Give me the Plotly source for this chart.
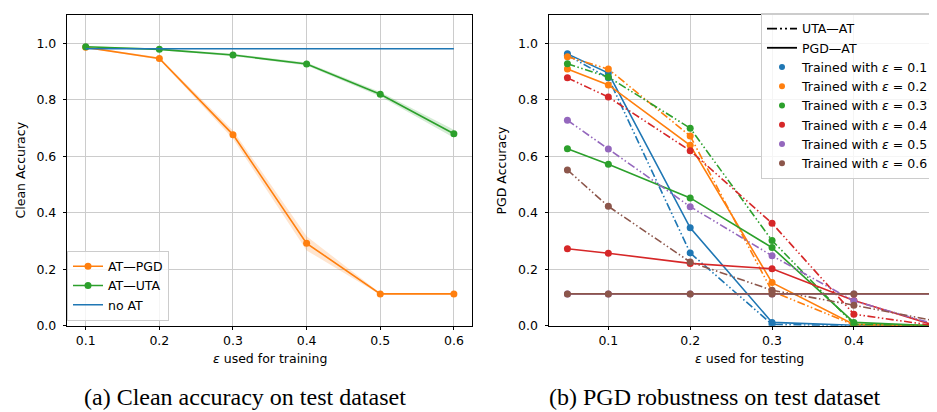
import plotly.graph_objects as go

# ---------------- data ----------------
eps_train = [0.1, 0.2, 0.3, 0.4, 0.5, 0.6]
clean_at_pgd = [0.986, 0.947, 0.677, 0.292, 0.113, 0.113]
clean_at_pgd_std = [0.002, 0.004, 0.015, 0.025, 0.003, 0.003]
clean_at_uta = [0.988, 0.979, 0.959, 0.927, 0.820, 0.680]
clean_at_uta_std = [0.002, 0.003, 0.004, 0.005, 0.008, 0.014]
clean_no_at = [0.981, 0.981, 0.981, 0.981, 0.981, 0.981]

eps_test = [0.05, 0.1, 0.2, 0.3, 0.4, 0.5]
train_eps_labels = ["0.1", "0.2", "0.3", "0.4", "0.5", "0.6"]
uta_01 = [0.958, 0.878, 0.258, 0.005, 0.000, 0.000]
pgd_01 = [0.963, 0.895, 0.347, 0.012, 0.002, 0.000]
uta_02 = [0.953, 0.909, 0.672, 0.122, 0.003, 0.000]
pgd_02 = [0.909, 0.853, 0.639, 0.153, 0.005, 0.000]
uta_03 = [0.928, 0.881, 0.700, 0.302, 0.005, 0.000]
pgd_03 = [0.627, 0.572, 0.453, 0.277, 0.012, 0.000]
uta_04 = [0.878, 0.810, 0.620, 0.363, 0.041, 0.000]
pgd_04 = [0.273, 0.257, 0.221, 0.202, 0.090, 0.000]
uta_05 = [0.728, 0.626, 0.422, 0.248, 0.088, 0.005]
pgd_05 = [0.113, 0.113, 0.113, 0.113, 0.113, 0.113]
uta_06 = [0.552, 0.423, 0.226, 0.126, 0.073, 0.017]
pgd_06 = [0.113, 0.113, 0.113, 0.113, 0.113, 0.113]

uta_series = [uta_01, uta_02, uta_03, uta_04, uta_05, uta_06]
pgd_series = [pgd_01, pgd_02, pgd_03, pgd_04, pgd_05, pgd_06]

# ---------------- style ----------------
C = ["#1f77b4", "#ff7f0e", "#2ca02c", "#d62728", "#9467bd", "#8c564b"]
FONT = "DejaVu Sans"
DASH = "8px,2.5px,1.5px,2.5px,1.5px,2.5px"
W, H = 937, 412
MS = 7

def px(x):
    return x / W

def py(y):
    return 1 - y / H

fig = go.Figure()

def band(x, m, s, color, axis):
    up = [a + b for a, b in zip(m, s)]
    lo = [a - b for a, b in zip(m, s)]
    fig.add_trace(go.Scatter(x=x, y=up, mode="lines", line=dict(width=0),
                             showlegend=False, hoverinfo="skip",
                             xaxis=axis[0], yaxis=axis[1]))
    fig.add_trace(go.Scatter(x=x, y=lo, mode="lines", line=dict(width=0),
                             fill="tonexty", fillcolor=color,
                             showlegend=False, hoverinfo="skip",
                             xaxis=axis[0], yaxis=axis[1]))

# ---- left panel ----
band(eps_train, clean_at_pgd, clean_at_pgd_std, "rgba(255,127,14,0.2)", ("x", "y"))
band(eps_train, clean_at_uta, clean_at_uta_std, "rgba(44,160,44,0.2)", ("x", "y"))

fig.add_trace(go.Scatter(x=eps_train, y=clean_at_pgd, mode="lines+markers",
                         name="AT—PGD", line=dict(color=C[1], width=1.6),
                         marker=dict(size=MS, color=C[1]), legend="legend",
                         xaxis="x", yaxis="y"))
fig.add_trace(go.Scatter(x=eps_train, y=clean_at_uta, mode="lines+markers",
                         name="AT—UTA", line=dict(color=C[2], width=1.6),
                         marker=dict(size=MS, color=C[2]), legend="legend",
                         xaxis="x", yaxis="y"))
fig.add_trace(go.Scatter(x=eps_train, y=clean_no_at, mode="lines",
                         name="no AT", line=dict(color=C[0], width=1.6),
                         legend="legend", xaxis="x", yaxis="y"))

# ---- right panel ----
for i in range(6):
    fig.add_trace(go.Scatter(x=eps_test, y=uta_series[i], mode="lines+markers",
                             line=dict(color=C[i], width=1.6, dash=DASH),
                             marker=dict(size=MS, color=C[i]), showlegend=False,
                             xaxis="x2", yaxis="y2"))
    fig.add_trace(go.Scatter(x=eps_test, y=pgd_series[i], mode="lines+markers",
                             line=dict(color=C[i], width=1.6),
                             marker=dict(size=MS, color=C[i]), showlegend=False,
                             xaxis="x2", yaxis="y2"))

# legend entries for right panel
fig.add_trace(go.Scatter(x=[None], y=[None], mode="lines", name="UTA—AT",
                         line=dict(color="black", width=1.8, dash="10px,3px,2px,3px,2px,3px"),
                         legend="legend2", xaxis="x2", yaxis="y2"))
fig.add_trace(go.Scatter(x=[None], y=[None], mode="lines", name="PGD—AT",
                         line=dict(color="black", width=1.8),
                         legend="legend2", xaxis="x2", yaxis="y2"))
for i in range(6):
    fig.add_trace(go.Scatter(x=[None], y=[None], mode="markers",
                             name="Trained with <i>ε</i> = " + train_eps_labels[i],
                             marker=dict(size=6, color=C[i]),
                             legend="legend2", xaxis="x2", yaxis="y2"))

axis_common = dict(
    showgrid=True, gridcolor="#cccccc", gridwidth=1,
    showline=True, linecolor="black", linewidth=1,
    ticks="outside", ticklen=3.5, tickwidth=1, tickcolor="black",
    tickfont=dict(family=FONT, size=12.5, color="black"),
    zeroline=False,
)

fig.update_layout(
    width=W, height=H,
    margin=dict(l=0, r=0, t=0, b=0),
    paper_bgcolor="white", plot_bgcolor="white",
    font=dict(family=FONT, size=12, color="black"),
    xaxis=dict(domain=[px(59.3), px(464.3)], range=[0.075, 0.625],
               tickvals=eps_train, tickformat=".1f", mirror=True,
               anchor="y", **axis_common),
    yaxis=dict(domain=[py(323.3), py(7.3)], range=[0, 1.1],
               tickvals=[0, 0.2, 0.4, 0.6, 0.8, 1.0], tickformat=".1f",
               mirror=True, anchor="x", ticklabelstandoff=4, **axis_common),
    xaxis2=dict(domain=[px(541), 1.0], range=[0.0275, 0.5113],
                tickvals=[0.1, 0.2, 0.3, 0.4, 0.5], tickformat=".1f",
                mirror=True, anchor="y2", **axis_common),
    yaxis2=dict(domain=[py(323.3), py(7.3)], range=[0, 1.1],
                tickvals=[0, 0.2, 0.4, 0.6, 0.8, 1.0], tickformat=".1f",
                anchor="x2", ticklabelstandoff=4, **axis_common),
    legend=dict(x=px(59), y=py(318), xanchor="left", yanchor="bottom",
                bgcolor="rgba(255,255,255,0.8)", bordercolor="#cccccc",
                borderwidth=1, font=dict(family=FONT, size=12.5),
                tracegroupgap=0, itemwidth=30, traceorder="normal"),
    legend2=dict(x=px(753), y=py(5), xanchor="left", yanchor="top",
                 bgcolor="rgba(255,255,255,0.8)", bordercolor="#cccccc",
                 borderwidth=1, font=dict(family=FONT, size=12.5),
                 tracegroupgap=0, itemwidth=30, traceorder="normal"),
    showlegend=True,
)

ann = [
    dict(x=px(261.8), y=py(357), text="<i>ε</i> used for training"),
    dict(x=px(741), y=py(357), text="<i>ε</i> used for testing"),
    dict(x=px(12), y=py(165.3), text="Clean Accuracy", textangle=-90),
    dict(x=px(493), y=py(165.3), text="PGD Accuracy", textangle=-90),
]
for a in ann:
    fig.add_annotation(xref="paper", yref="paper", showarrow=False,
                       xanchor="center", yanchor="middle",
                       font=dict(family=FONT, size=12.5, color="black"), **a)

fig.add_annotation(xref="paper", yref="paper", x=px(237.5), y=py(396),
                   text="(a) Clean accuracy on test dataset", showarrow=False,
                   xanchor="center", yanchor="middle",
                   font=dict(family="Liberation Serif", size=24, color="black"))
fig.add_annotation(xref="paper", yref="paper", x=px(707), y=py(396),
                   text="(b) PGD robustness on test dataset", showarrow=False,
                   xanchor="center", yanchor="middle",
                   font=dict(family="Liberation Serif", size=24, color="black"))

fig.write_html("out.html")
